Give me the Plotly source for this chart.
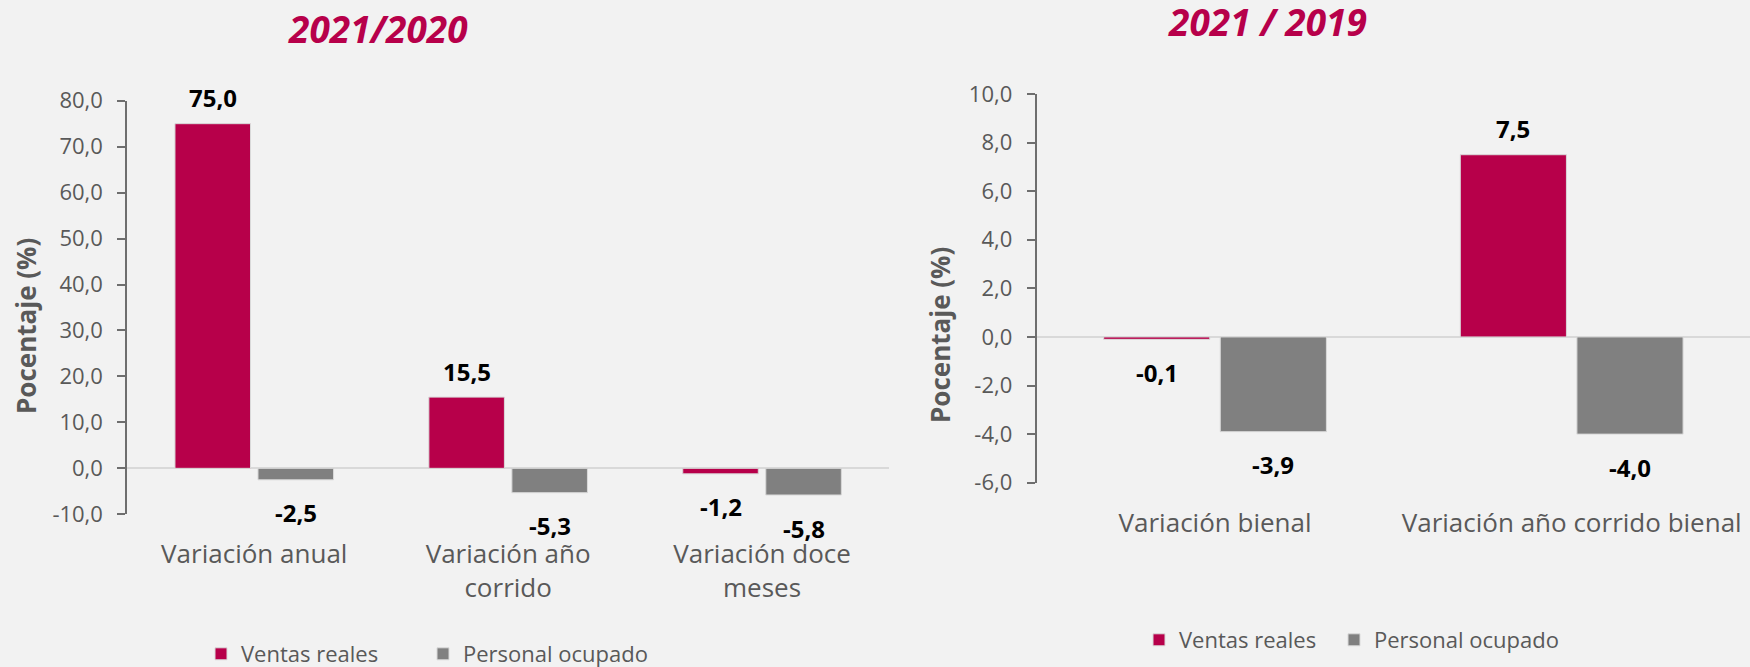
import plotly.graph_objects as go

# ---- data ----
cats_left = ["Variación anual", "Variación año<br>corrido", "Variación doce<br>meses"]
ventas_left = [75.0, 15.5, -1.2]
personal_left = [-2.5, -5.3, -5.8]

cats_right = ["Variación bienal", "Variación año corrido bienal"]
ventas_right = [-0.1, 7.5]
personal_right = [-3.9, -4.0]

yticks_left = [80, 70, 60, 50, 40, 30, 20, 10, 0, -10]
yticks_right = [10, 8, 6, 4, 2, 0, -2, -4, -6]

title_left = "2021/2020"
title_right = "2021 / 2019"
ytitle = "Pocentaje (%)"
series_names = ["Ventas reales", "Personal ocupado"]

# ---- style ----
CRIMSON = "#B7004A"
GRAY = "#808080"
BG = "#F2F2F2"
FONT = "Open Sans"
W, H = 1750, 667
BARGAP = 0.346


def fmt(v):
    return f"{v:.1f}".replace(".", ",")


fig = go.Figure()

panels = [
    dict(cats=cats_left, v=ventas_left, p=personal_left, xa="x", ya="y",
         legends=["legend", "legend2"]),
    dict(cats=cats_right, v=ventas_right, p=personal_right, xa="x2", ya="y2",
         legends=["legend3", "legend4"]),
]

annotations = []
for pan in panels:
    for k, (name, vals, col, sign) in enumerate([(series_names[0], pan["v"], CRIMSON, -1),
                                                 (series_names[1], pan["p"], GRAY, 1)]):
        fig.add_trace(go.Bar(
            x=pan["cats"], y=vals, name=name, xaxis=pan["xa"], yaxis=pan["ya"],
            marker=dict(color=col, line=dict(color="#D9D9D9", width=1)),
            legend=pan["legends"][k], hoverinfo="skip",
        ))
        off = sign * (1 - BARGAP) / 4
        for i, val in enumerate(vals):
            annotations.append(dict(
                x=i + off, y=val, xref=pan["xa"], yref=pan["ya"],
                text=f"<b>{fmt(val)}</b>", showarrow=False,
                xanchor="center", yanchor="middle",
                yshift=26 if val >= 0 else -33,
                font=dict(family=FONT, size=24, color="#000000"),
            ))

# titles
for tx, ty, txt in [(377.5, 29, title_left), (1267, 22, title_right)]:
    annotations.append(dict(x=tx / W, y=1 - ty / H, xref="paper", yref="paper",
                            xanchor="center", yanchor="middle",
                            text=f"<b><i>{txt}</i></b>", showarrow=False,
                            font=dict(family=FONT, size=37, color=CRIMSON)))

# y-axis titles
for tx, ty in [(26, 326), (940, 335)]:
    annotations.append(dict(x=tx / W, y=1 - ty / H, xref="paper", yref="paper",
                            xanchor="center", yanchor="middle", textangle=-90,
                            text=f"<b>{ytitle}</b>", showarrow=False,
                            font=dict(family=FONT, size=26, color="#595959")))

axis_common = dict(showgrid=False, showline=True, linecolor="#6E6E6E", linewidth=2,
                   ticks="outside", ticklen=8, tickwidth=2, tickcolor="#6E6E6E",
                   zeroline=True, zerolinecolor="#D9D9D9", zerolinewidth=2,
                   ticklabelstandoff=10,
                   tickfont=dict(family=FONT, size=22, color="#595959"))
xaxis_common = dict(showgrid=False, showline=False, ticks="", zeroline=False,
                    tickfont=dict(family=FONT, size=26, color="#595959"),
                    ticklabelstandoff=22)

legend_common = dict(orientation="h", xanchor="left", yanchor="middle",
                     bgcolor="rgba(0,0,0,0)", font=dict(family=FONT, size=22, color="#595959"))

fig.update_layout(
    width=W, height=H,
    margin=dict(l=0, r=0, t=0, b=0, autoexpand=False),
    paper_bgcolor=BG, plot_bgcolor=BG,
    barmode="group", bargap=BARGAP, bargroupgap=0.09,
    font=dict(family=FONT, color="#595959"),
    showlegend=True,
    xaxis=dict(domain=[127.3 / W, 889 / W], **xaxis_common),
    yaxis=dict(domain=[1 - 514.3 / H, 1 - 100.7 / H], range=[-10, 80],
               tickvals=yticks_left, ticktext=[fmt(t) for t in yticks_left], **axis_common),
    xaxis2=dict(domain=[1036.7 / W, 1.0], anchor="y2", **xaxis_common),
    yaxis2=dict(domain=[1 - 482.7 / H, 1 - 94 / H], range=[-6, 10], anchor="x2",
                tickvals=yticks_right, ticktext=[fmt(t) for t in yticks_right], **axis_common),
    legend=dict(x=201 / W, y=1 - 654 / H, **legend_common),
    legend2=dict(x=423 / W, y=1 - 654 / H, **legend_common),
    legend3=dict(x=1139 / W, y=1 - 640 / H, **legend_common),
    legend4=dict(x=1334 / W, y=1 - 640 / H, **legend_common),
    annotations=annotations,
)

fig.write_html("out.html", config={"displayModeBar": False},
               post_script="document.body.style.margin='0';document.body.style.overflow='hidden';")
